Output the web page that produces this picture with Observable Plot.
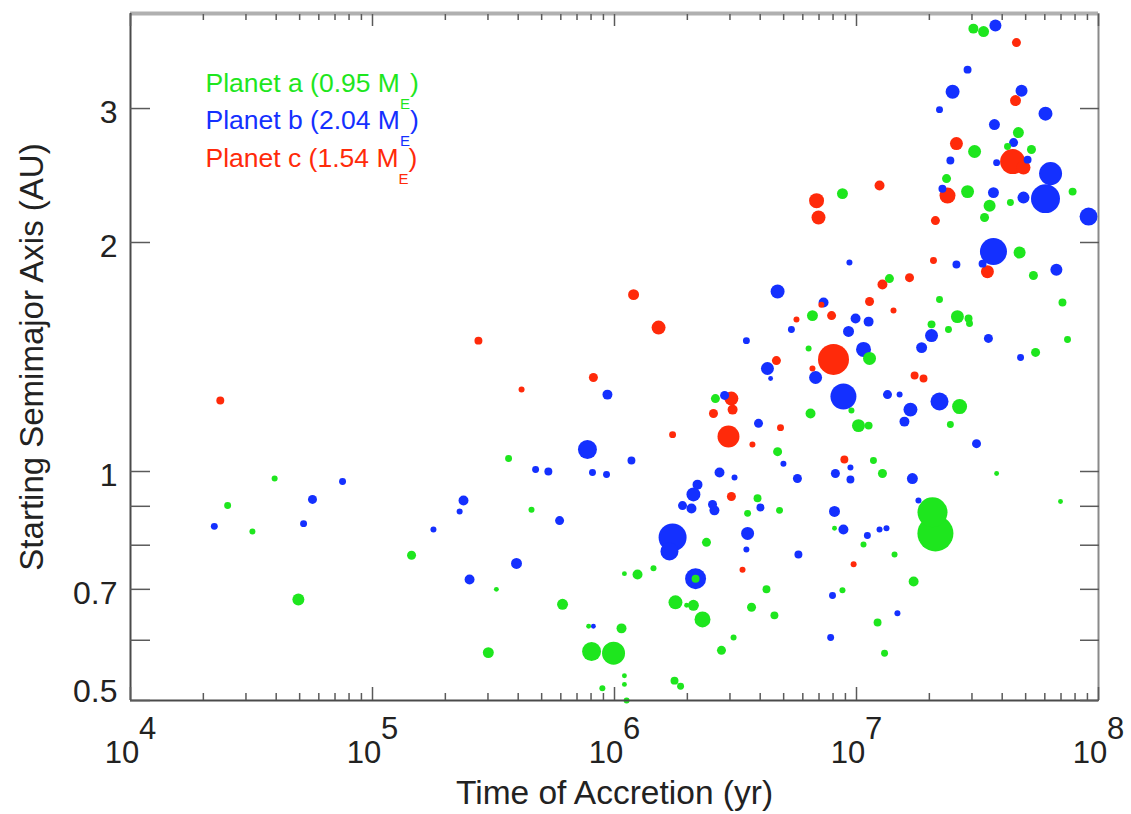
<!DOCTYPE html>
<html><head><meta charset="utf-8">
<script src="https://cdn.jsdelivr.net/npm/d3@7"></script>
<script src="https://cdn.jsdelivr.net/npm/@observablehq/plot@0.6"></script>
<style>body{margin:0;background:#fff;} svg{display:block}</style>
</head><body><div id="chart"></div>
<script>
// Planet labels and colours
const planetKeys = ["a", "b", "c"];
const planetLabels = ["Planet a (0.95 M_E)", "Planet b (2.04 M_E)", "Planet c (1.54 M_E)"];
const planetColors = ["#1ee61e", "#1430ff", "#ff2a0a"];

// Planet a (green): time of accretion (yr), starting semimajor axis (AU), embryo mass (M_E)
const aTime = [39400, 25200, 31900, 145000, 49400, 365000, 325000, 454000, 301000, 610000,
  782000, 804000, 991000, 1069000, 1099000, 1099000, 891000, 1122000, 1099000, 1245000,
  1449000, 2163000, 1786000, 1986000, 2119000, 2310000, 1770000, 1875000, 2767000, 3105000,
  3683000, 4580000, 4246000, 2399000, 3548000, 3900000, 4808000, 2612000, 4720000, 8750000,
  13680000, 6577000, 6340000, 11320000, 6457000, 9530000, 10190000, 11220000, 11750000, 12800000,
  8110000, 10690000, 14360000, 20610000, 21190000, 17220000, 8750000, 12220000, 13060000, 69660000,
  37930000, 26670000, 24430000, 22030000, 20420000, 23990000, 26120000, 29040000, 29310000, 54950000,
  74470000, 70970000, 53830000, 47200000, 30410000, 33500000, 46670000, 30760000, 42070000, 52840000,
  23550000, 28770000, 78160000, 35480000, 43250000, 33810000];
const aAxis = [0.979, 0.902, 0.834, 0.776, 0.679, 1.040, 0.700, 0.891, 0.578, 0.669,
  0.626, 0.580, 0.577, 0.622, 0.539, 0.525, 0.519, 0.500, 0.734, 0.732,
  0.746, 0.723, 0.673, 0.667, 0.667, 0.639, 0.531, 0.522, 0.582, 0.605,
  0.663, 0.647, 0.700, 0.807, 0.881, 0.922, 0.889, 1.247, 1.062, 2.319,
  1.793, 1.603, 1.451, 1.408, 1.192, 1.203, 1.149, 1.149, 1.034, 0.994,
  0.842, 0.802, 0.778, 0.884, 0.829, 0.717, 0.698, 0.633, 0.577, 0.913,
  0.994, 1.217, 1.153, 1.683, 1.561, 1.537, 1.598, 1.589, 1.565, 1.434,
  1.491, 1.668, 1.810, 1.940, 3.821, 3.787, 2.790, 2.634, 2.674, 2.650,
  2.427, 2.333, 2.333, 2.236, 2.257, 2.157];
const aMass = [.012, .016, .012, .027, .048, .016, .008, .012, .040, .040,
  .008, .120, .176, .033, .008, .008, .012, .012, .008, .033,
  .012, .021, .065, .008, .040, .085, .021, .016, .027, .012,
  .027, .021, .021, .027, .016, .021, .016, .027, .027, .040,
  .027, .040, .012, .056, .033, .012, .056, .021, .016, .027,
  .008, .012, .012, .300, .432, .033, .012, .021, .016, .008,
  .008, .075, .016, .016, .021, .016, .056, .021, .016, .027,
  .016, .021, .027, .048, .033, .040, .040, .056, .016, .027,
  .027, .056, .021, .048, .016, .027];

// Planet b (blue)
const bTime = [75200, 56500, 22200, 51900, 178600, 237700, 229100, 251800, 393600, 472000,
  533000, 593000, 773000, 811000, 927000, 1175000, 818000, 935000, 1738000, 1687000,
  2163000, 2203000, 2119000, 1910000, 2080000, 2541000, 2588000, 3548000, 3508000, 4009000,
  2716000, 3133000, 2851000, 3936000, 4989000, 5700000, 5754000, 4720000, 5383000, 3508000,
  4285000, 4416000, 9350000, 7310000, 9910000, 11220000, 9270000, 10690000, 6776000, 8830000,
  13430000, 15070000, 16710000, 15780000, 18580000, 20420000, 22030000, 31330000, 8180000, 9440000,
  9440000, 17020000, 8110000, 8830000, 11090000, 12450000, 13300000, 18030000, 7960000, 14760000,
  7820000, 25880000, 33190000, 36810000, 66990000, 35080000, 47640000, 37500000, 28770000, 24950000,
  48080000, 22030000, 60390000, 37150000, 44570000, 24430000, 37930000, 50930000, 63390000, 22650000,
  36810000, 48980000, 60390000, 91000000];
const bAxis = [0.970, 0.919, 0.847, 0.854, 0.839, 0.916, 0.886, 0.721, 0.757, 1.006,
  1.000, 0.862, 1.069, 0.997, 0.991, 1.034, 0.626, 1.262, 0.819, 0.785,
  0.723, 0.961, 0.933, 0.902, 0.894, 0.905, 0.889, 0.829, 0.790, 0.897,
  0.997, 0.982, 1.259, 1.157, 1.024, 0.979, 0.778, 1.724, 1.537, 1.486,
  1.366, 1.325, 1.882, 1.668, 1.589, 1.574, 1.528, 1.447, 1.329, 1.255,
  1.262, 1.262, 1.206, 1.163, 1.455, 1.509, 1.236, 1.088, 0.994, 1.012,
  0.976, 0.979, 0.886, 0.839, 0.824, 0.839, 0.842, 0.916, 0.687, 0.651,
  0.605, 1.871, 1.876, 1.946, 1.842, 1.496, 1.412, 3.856, 3.375, 3.157,
  3.167, 2.990, 2.954, 2.858, 2.706, 2.563, 2.547, 2.570, 2.464, 2.354,
  2.326, 2.291, 2.284, 2.163];
const bMass = [.016, .027, .016, .016, .012, .033, .012, .033, .040, .016,
  .021, .027, .120, .016, .016, .021, .008, .033, .261, .108,
  .147, .033, .065, .027, .033, .027, .033, .056, .012, .021,
  .033, .012, .027, .027, .012, .027, .021, .065, .016, .016,
  .056, .008, .012, .033, .033, .033, .040, .075, .056, .225,
  .027, .012, .065, .033, .040, .056, .108, .027, .027, .012,
  .021, .040, .040, .033, .016, .012, .012, .012, .016, .012,
  .016, .021, .021, .243, .048, .027, .016, .048, .021, .065,
  .048, .016, .065, .040, .027, .021, .016, .021, .176, .021,
  .040, .048, .280, .108];

// Planet c (red)
const cTime = [23500, 274000, 413000, 1199000, 1521000, 818000, 3041000, 3076000, 2564000, 1738000,
  2958000, 3715000, 4853000, 4667000, 5649000, 3381000, 3041000, 6839000, 6966000, 12450000,
  21190000, 23770000, 25880000, 44160000, 48980000, 45810000, 45390000, 20800000, 34750000, 12800000,
  16560000, 11320000, 7161000, 14220000, 7889000, 8035000, 6577000, 17380000, 18920000, 8910000, 9730000];
const cAxis = [1.240, 1.486, 1.282, 1.708, 1.546, 1.329, 1.247, 1.206, 1.192, 1.118,
  1.112, 1.085, 1.142, 1.399, 1.584, 0.743, 0.927, 2.270, 2.157, 2.376,
  2.137, 2.305, 2.698, 2.555, 2.509, 3.663, 3.073, 1.894, 1.831, 1.761,
  1.798, 1.673, 1.657, 1.628, 1.603, 1.404, 1.366, 1.337, 1.325, 1.037, 0.755];
const cMass = [.021, .021, .012, .040, .065, .027, .065, .033, .027, .016,
  .161, .012, .016, .027, .012, .012, .027, .075, .065, .033,
  .027, .085, .056, .208, .065, .027, .040, .016, .056, .033,
  .027, .027, .012, .012, .027, .320, .012, .021, .021, .021, .012];

// Axes
const xDomain = [1e4, 1e8];
const yDomain = [0.5, 4];
const xMajor = [1e4, 1e5, 1e6, 1e7, 1e8];
const xDecades = [1e4, 1e5, 1e6, 1e7];
const xMultipliers = [2, 3, 4, 5, 6, 7, 8, 9];
const xMinor = xDecades.flatMap(d => xMultipliers.map(k => k * d));
const yTicks = [0.5, 0.6, 0.7, 0.8, 0.9, 1, 2, 3];
const yLabeled = [0.7, 1, 2, 3];
const yLabeledBottom = [0.5];
const xTitle = "Time of Accretion (yr)";
const yTitle = "Starting Semimajor Axis (AU)";

// Drawing order: b (blue) first, then a (green), then c (red)
const series = [
  {planet: "b", time: bTime, axis: bAxis, mass: bMass},
  {planet: "a", time: aTime, axis: aAxis, mass: aMass},
  {planet: "c", time: cTime, axis: cAxis, mass: cMass}
];
const rows = series.flatMap(s => s.time.map((t, i) => ({planet: s.planet, time: t, axis: s.axis[i], mass: s.mass[i]})));

const font = "'Liberation Sans', Arial, Helvetica, sans-serif";
const tickColor = "#5a5a5a";

const chart = Plot.plot({
  width: 1131, height: 814,
  marginLeft: 130, marginRight: 33, marginTop: 13, marginBottom: 114,
  style: {fontFamily: font, background: "#fff", color: "#222"},
  x: {type: "log", domain: xDomain, label: null},
  y: {type: "log", domain: yDomain, label: null},
  r: {type: "sqrt", domain: [0, 0.3], range: [0, 15]},
  color: {domain: planetKeys, range: planetColors},
  marks: [
    Plot.dot(rows, {x: "time", y: "axis", r: "mass", fill: "planet", stroke: null}),
    // frame lines
    Plot.ruleY([yDomain[1]], {stroke: "#b0b0b0", strokeWidth: 4}),
    Plot.ruleX([xDomain[1]], {stroke: "#8a8a8a", strokeWidth: 2}),
    Plot.ruleY([yDomain[0]], {stroke: "#4a4a4a", strokeWidth: 2}),
    Plot.ruleX([xDomain[0]], {stroke: "#4a4a4a", strokeWidth: 2}),
    // inward ticks
    Plot.axisX({anchor: "bottom", ticks: xMinor, tickSize: -7, fill: "none", stroke: tickColor, strokeWidth: 1.5, label: null}),
    Plot.axisX({anchor: "bottom", ticks: xMajor, tickSize: -13, fill: "none", stroke: tickColor, strokeWidth: 1.5, label: null}),
    Plot.axisX({anchor: "top", ticks: xMinor, tickSize: -6, fill: "none", stroke: tickColor, strokeWidth: 1.5, label: null}),
    Plot.axisX({anchor: "top", ticks: xMajor, tickSize: -12, fill: "none", stroke: tickColor, strokeWidth: 1.5, label: null}),
    Plot.axisY({anchor: "left", ticks: yTicks, tickSize: -20, fill: "none", stroke: tickColor, strokeWidth: 1.5, label: null}),
    Plot.axisY({anchor: "right", ticks: yTicks, tickSize: -19, fill: "none", stroke: tickColor, strokeWidth: 1.5, label: null}),
    // tick labels
    Plot.axisX({anchor: "bottom", ticks: xMajor, tickSize: 0, tickPadding: 40, fontSize: 31, fill: "#222",
      tickFormat: d => "10^" + Math.round(Math.log10(d)), label: null}),
    Plot.axisY({anchor: "left", ticks: yLabeled, tickSize: 0, tickPadding: 13, fontSize: 32, fill: "#222", dy: 4,
      tickFormat: d => String(d), label: null}),
    Plot.axisY({anchor: "left", ticks: yLabeledBottom, tickSize: 0, tickPadding: 13, fontSize: 32, fill: "#222", dy: -9,
      tickFormat: d => String(d), label: null}),
    // axis titles
    Plot.text([xTitle], {frameAnchor: "bottom", dy: 93, lineAnchor: "middle", textAnchor: "middle", fontSize: 33.5, fill: "#222"}),
    Plot.text([yTitle], {frameAnchor: "left", dx: -98, rotate: -90, lineAnchor: "middle", textAnchor: "middle", fontSize: 33, fill: "#222"}),
    // legend
    ...planetLabels.map((lab, i) => Plot.text([lab], {frameAnchor: "top-left", dx: 75, dy: 78 + i * 37.5,
      lineAnchor: "bottom", textAnchor: "start", fontSize: 26.5, fill: planetColors[i]}))
  ]
});

// superscript exponents on x tick labels
d3.select(chart).selectAll('[aria-label="x-axis tick label"] text').each(function() {
  const s = this.textContent;
  if (!s.includes("^")) return;
  const [b, e] = s.split("^");
  const t = d3.select(this);
  t.text(null);
  t.append("tspan").text(b);
  t.append("tspan").attr("dy", "-0.75em").text(e);
});
// subscript E in legend
d3.select(chart).selectAll("text").each(function() {
  const s = this.textContent;
  if (!s.includes("M_E")) return;
  const [pre, post] = s.split("_E");
  const t = d3.select(this);
  t.text(null);
  t.append("tspan").text(pre);
  t.append("tspan").attr("dy", 17).attr("font-size", 15).text("E");
  t.append("tspan").attr("dy", -17).text(post);
});

document.getElementById("chart").appendChild(chart);
</script>
</body></html>
